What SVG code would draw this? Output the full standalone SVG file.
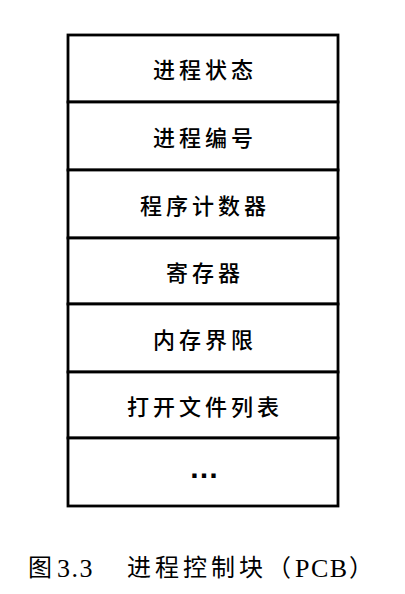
<svg xmlns="http://www.w3.org/2000/svg" width="405" height="594" viewBox="0 0 405 594">
<style>
.cell{fill:#fff;stroke:#000;stroke-width:2.8}
.lbl{font-family:"Noto Sans CJK SC","Noto Sans CJK JP",sans-serif;font-size:22px;font-weight:500;letter-spacing:4px;text-anchor:middle;fill:#000}
.cap{font-family:"Noto Sans CJK SC",sans-serif;font-size:24px;fill:#000}
.capl{font-family:"Liberation Serif",serif;font-size:26px;fill:#000}
</style>
<rect width="405" height="594" fill="#fff"/>
<g id="pcb">
<g id="n1"><rect class="cell" x="68" y="35" width="270" height="67"/><text class="lbl" x="205" y="78">进程状态</text></g>
<g id="n2"><rect class="cell" x="68" y="102" width="270" height="68"/><text class="lbl" x="205" y="146">进程编号</text></g>
<g id="n3"><rect class="cell" x="68" y="170" width="270" height="68"/><text class="lbl" x="205" y="214">程序计数器</text></g>
<g id="n4"><rect class="cell" x="68" y="238" width="270" height="66"/><text class="lbl" x="205" y="281">寄存器</text></g>
<g id="n5"><rect class="cell" x="68" y="304" width="270" height="68"/><text class="lbl" x="205" y="348">内存界限</text></g>
<g id="n6"><rect class="cell" x="68" y="372" width="270" height="66"/><text class="lbl" x="205" y="415">打开文件列表</text></g>
<g id="n7"><rect class="cell" x="68" y="438" width="270" height="68"/><text x="204" y="478" font-family="Liberation Sans, sans-serif" font-size="30" font-weight="bold" text-anchor="middle" fill="#000">…</text></g>
</g>
<g id="connectors"></g>
<g id="caption">
<text class="cap" x="28" y="576">图</text>
<text class="capl" x="57" y="577" letter-spacing="1.5">3.3</text>
<text class="cap" x="127" y="576" letter-spacing="4">进程控制块</text>
<text class="cap" x="267" y="576">（</text>
<text class="capl" x="295" y="577" letter-spacing="1.5">PCB</text>
<text class="cap" x="349" y="576">）</text>
</g>
</svg>
